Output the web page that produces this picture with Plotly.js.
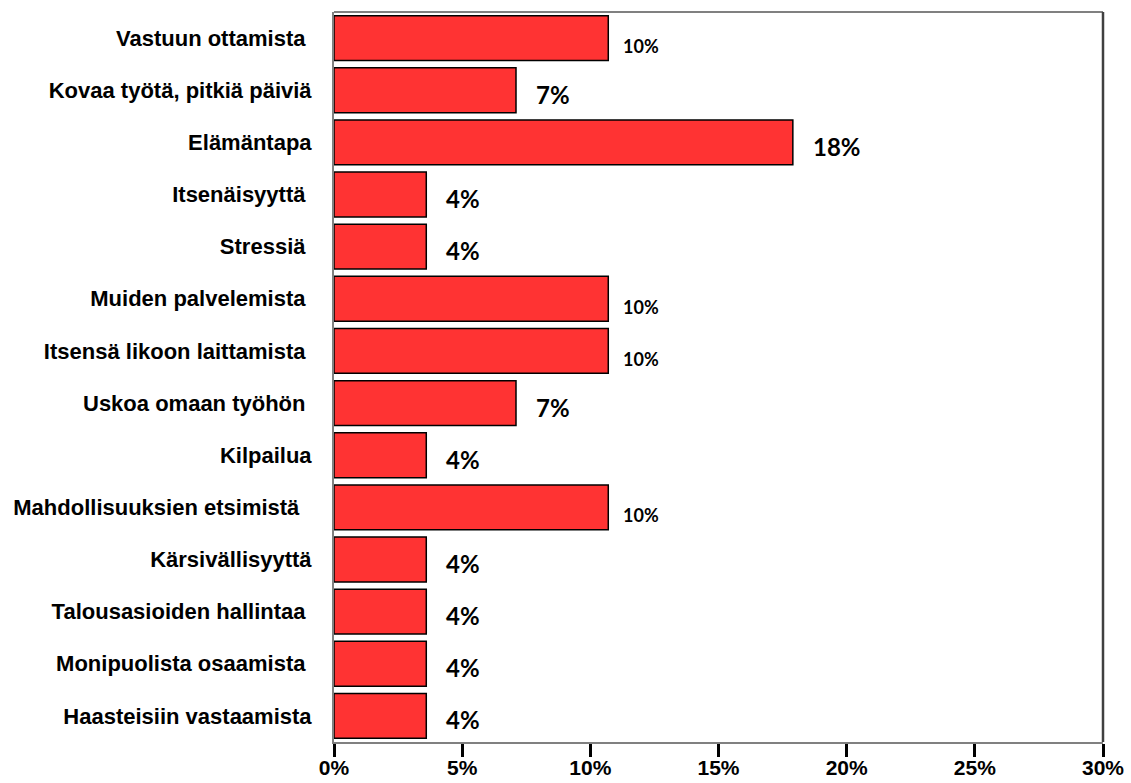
<!DOCTYPE html>
<html>
<head>
<meta charset="utf-8">
<script src="https://cdn.plot.ly/plotly-3.0.1.min.js"></script>
<style>html,body{margin:0;padding:0;background:#fff;}#chart{width:1131px;height:783px;}</style>
</head>
<body>
<div id="chart"></div>
<script>
const categories = [
  "Vastuun ottamista\u00a0",
  "Kovaa työtä, pitkiä päiviä",
  "Elämäntapa",
  "Itsenäisyyttä\u00a0",
  "Stressiä\u00a0",
  "Muiden palvelemista\u00a0",
  "Itsensä likoon laittamista\u00a0",
  "Uskoa omaan työhön\u00a0",
  "Kilpailua",
  "Mahdollisuuksien etsimistä\u00a0\u00a0",
  "Kärsivällisyyttä",
  "Talousasioiden hallintaa\u00a0",
  "Monipuolista osaamista\u00a0",
  "Haasteisiin vastaamista"
];
const values = [10.7, 7.1, 17.9, 3.6, 3.6, 10.7, 10.7, 7.1, 3.6, 10.7, 3.6, 3.6, 3.6, 3.6];
const valueLabels = ["10%", "7%", "18%", "4%", "4%", "10%", "10%", "7%", "4%", "10%", "4%", "4%", "4%", "4%"];
const tickVals = [0, 5, 10, 15, 20, 25, 30];
const tickText = ["0%", "5%", "10%", "15%", "20%", "25%", "30%"];

const trace = {
  type: 'bar',
  orientation: 'h',
  x: values,
  y: categories,
  marker: {color: '#FF3333', line: {color: '#000000', width: 1.5}},
  hoverinfo: 'none'
};

const annotations = values.map((v, i) => {
  const small = valueLabels[i] === "10%";
  return {
    x: v, y: categories[i], xref: 'x', yref: 'y',
    text: valueLabels[i], showarrow: false,
    xanchor: 'left', yanchor: 'middle',
    xshift: small ? 13 : 18, yshift: small ? -8 : -4,
    font: {family: 'Lato, "Open Sans", sans-serif', size: small ? 18 : 24, color: '#000', weight: 'bold'}
  };
});

const layout = {
  width: 1131, height: 783,
  margin: {l: 334, r: 28, t: 12, b: 41},
  paper_bgcolor: '#fff', plot_bgcolor: '#fff',
  showlegend: false,
  bargap: 0.14,
  xaxis: {
    range: [0, 30], tickvals: tickVals, ticktext: tickText,
    showgrid: false, zeroline: false,
    showline: true, linecolor: '#808080', linewidth: 2,
    ticks: 'outside', ticklen: 13, tickwidth: 3, tickcolor: '#000',
    ticklabelstandoff: -7,
    tickfont: {family: '"Liberation Sans", Arial, sans-serif', size: 21, color: '#000', weight: 'bold'},
    fixedrange: true
  },
  yaxis: {
    autorange: 'reversed',
    showgrid: false, zeroline: false,
    showline: true, linecolor: '#808080', linewidth: 2,
    ticks: '', ticklabelstandoff: 16,
    tickfont: {family: '"Liberation Sans", Arial, sans-serif', size: 22, color: '#000', weight: 'bold'},
    fixedrange: true
  },
  shapes: [
    {type: 'line', xref: 'paper', yref: 'paper', x0: 0, x1: 1, y0: 1, y1: 1, line: {color: '#808080', width: 2}},
    {type: 'line', xref: 'paper', yref: 'paper', x0: 1, x1: 1, y0: 0, y1: 1, line: {color: '#404040', width: 2.5}}
  ],
  annotations: annotations
};

Plotly.newPlot('chart', [trace], layout, {displayModeBar: false, staticPlot: true});
</script>
</body>
</html>
